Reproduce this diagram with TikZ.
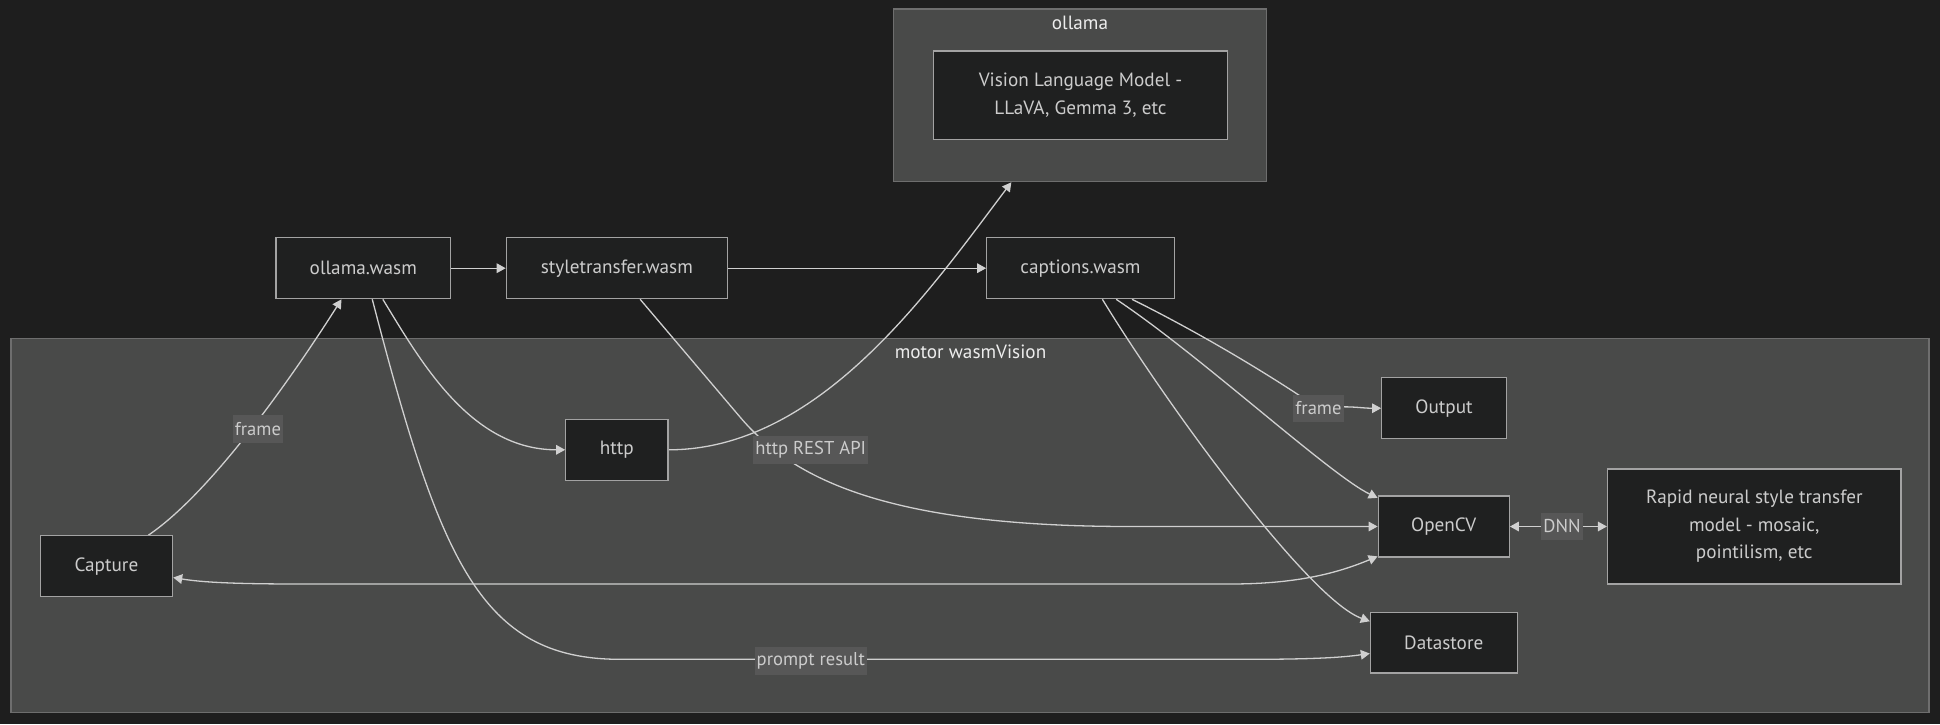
\documentclass[tikz,border=0pt]{standalone}
\usepackage{fontspec}
\setmainfont{PT Sans}
\usetikzlibrary{arrows.meta,calc}
\definecolor{bgc}{HTML}{1E1E1E}
\definecolor{clfill}{HTML}{494A49}
\definecolor{clborder}{HTML}{6E6E6E}
\definecolor{nodefill}{HTML}{1F2020}
\definecolor{nodeborder}{HTML}{A3A3A3}
\definecolor{txt}{HTML}{CCCCCC}
\definecolor{titletxt}{HTML}{EDEDED}
\definecolor{lblfill}{HTML}{575757}
\definecolor{edgec}{HTML}{D0D0D0}
\pgfdeclarelayer{bglayer}
\pgfdeclarelayer{edgelayer}
\pgfsetlayers{bglayer,edgelayer,main}
\tikzset{
  box/.style={draw=nodeborder, fill=nodefill, line width=0.6pt, text=txt,
    font=\fontsize{9.6}{13.7}\selectfont, align=center, inner sep=0pt},
  cluster/.style={draw=clborder, fill=clfill, line width=0.6pt, inner sep=0pt},
  cltitle/.style={text=titletxt, font=\fontsize{9.6}{12}\selectfont, inner sep=0pt},
  lbl/.style={fill=lblfill, text=txt, inner xsep=1pt, inner ysep=0pt,
    minimum height=13.8pt, font=\fontsize{9.3}{12}\selectfont},
  conn/.style={draw=edgec, line width=0.65pt},
  >={Triangle[length=4.5pt,width=4.8pt]}
}
\begin{document}
\begin{tikzpicture}[x=0.5pt,y=-0.5pt]
\begin{pgfonlayer}{bglayer}
\fill[bgc] (0,0) rectangle (1940,724);
\node[cluster, minimum width=186.5pt, minimum height=86.35pt] (ollamacl) at (1080.2,95.35) {};
\node[cluster, minimum width=959pt, minimum height=187pt] (motorcl) at (970,525.3) {};
\end{pgfonlayer}
\useasboundingbox (0,0) rectangle (1940,724);

\node[cltitle] (ollamatitle) at (1080,22.7) {ollama};
\node[cltitle] (motortitle) at (970.5,351.7) {motor wasmVision};

\node[box, minimum width=147.2pt, minimum height=44.15pt] (vlm) at (1080.5,95.2) {Vision Language Model -\\LLaVA, Gemma 3, etc};
\node[box, minimum width=87.35pt, minimum height=30.5pt] (ollamawasm) at (363.3,268.2) {ollama.wasm};
\node[box, minimum width=110.5pt, minimum height=30.5pt] (stylewasm) at (616.8,268.2) {styletransfer.wasm};
\node[box, minimum width=93.75pt, minimum height=30.5pt] (captions) at (1080.5,268.2) {captions.wasm};
\node[box, minimum width=51.15pt, minimum height=30.5pt] (http) at (616.85,449.8) {http};
\node[box, minimum width=66.2pt, minimum height=30.5pt] (capture) at (106.4,566.2) {Capture};
\node[box, minimum width=62.3pt, minimum height=30.5pt] (output) at (1444,408.2) {Output};
\node[box, minimum width=65.55pt, minimum height=30.5pt] (opencv) at (1443.75,526.5) {OpenCV};
\node[box, minimum width=146.75pt, minimum height=57.5pt] (rapid) at (1754.25,526.5) {Rapid neural style transfer\\model - mosaic,\\pointilism, etc};
\node[box, minimum width=73.35pt, minimum height=30.3pt] (datastore) at (1443.75,642.7) {Datastore};

\node[lbl] (lframea) at (258,428.8) {frame};
\node[lbl] (lhttp) at (810.7,449.7) {http REST API};
\node[lbl] (lprompt) at (810.8,661) {prompt result};
\node[lbl] (lframeb) at (1318.5,408.3) {frame};
\node[lbl] (ldnn) at (1562,526.3) {DNN};

\begin{pgfonlayer}{edgelayer}
\draw[conn,->] (ollamawasm) -- (stylewasm);
\draw[conn,->] (stylewasm) -- (captions);
\draw[conn,->] ($(capture.north west)!0.815!(capture.north east)$) .. controls (215,490) and (300,365) .. ($(ollamawasm.south west)!0.376!(ollamawasm.south east)$);
\draw[conn,->] ($(ollamawasm.south west)!0.611!(ollamawasm.south east)$) .. controls (420,360) and (470,449.8) .. (http.west);
\draw[conn,->] (http.east) .. controls (820,449.8) and (930,290) .. ($(ollamacl.south west)!0.316!(ollamacl.south east)$);
\draw[conn,->] ($(ollamawasm.south west)!0.551!(ollamawasm.south east)$) .. controls (440,560) and (480,659.3) .. (620,659.3) -- (1250,659.3) .. controls (1320,659.3) and (1345,657) .. ($(datastore.north west)!0.675!(datastore.south west)$);
\draw[conn,->] ($(stylewasm.south west)!0.605!(stylewasm.south east)$) -- (740,417) .. controls (790,476) and (880,526.5) .. (1130,526.5) -- (opencv.west);
\draw[conn,->] ($(captions.south west)!0.773!(captions.south east)$) .. controls (1200,333) and (1270,375) .. (lframeb.center) .. controls (1350,405) and (1360,408.3) .. (output.west);
\draw[conn,->] ($(captions.south west)!0.689!(captions.south east)$) .. controls (1200,355) and (1330,475) .. ($(opencv.north west)!0.04!(opencv.south west)$);
\draw[conn,->] ($(captions.south west)!0.616!(captions.south east)$) .. controls (1170,410) and (1310,600) .. ($(datastore.north west)!0.153!(datastore.south west)$);
\draw[conn,<->] ($(capture.north east)!0.682!(capture.south east)$) .. controls (200,582) and (230,584) .. (300,584) -- (1230,584) .. controls (1300,584) and (1340,572) .. ($(opencv.north west)!0.98!(opencv.south west)$);
\draw[conn,<->] (opencv.east) -- (rapid.west);
\end{pgfonlayer}
\end{tikzpicture}
\end{document}
